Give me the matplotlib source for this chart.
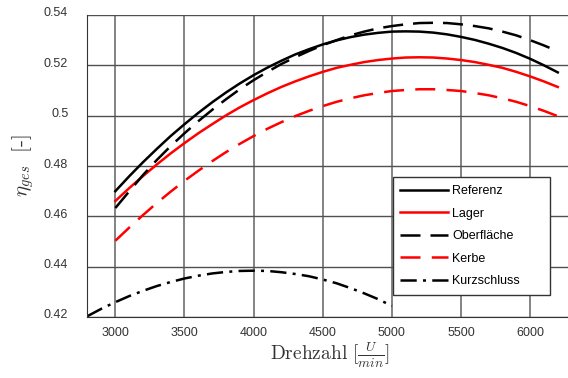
import matplotlib
matplotlib.use("Agg")
import matplotlib.pyplot as plt
import matplotlib.transforms as mtransforms

plt.rcParams['font.family'] = ['Liberation Sans', 'DejaVu Sans']
plt.rcParams['mathtext.fontset'] = 'cm'

rpm = [3000, 3100, 3200, 3300, 3400, 3500, 3600, 3700, 3800, 3900, 4000,
       4100, 4200, 4300, 4400, 4500, 4600, 4700, 4800, 4900, 5000,
       5100, 5200, 5300, 5400, 5500, 5600, 5700, 5800, 5900, 6000, 6100, 6200]
referenz = [0.4700, 0.4759, 0.4815, 0.4868, 0.4919, 0.4966, 0.5011, 0.5053, 0.5092, 0.5128, 0.5161,
            0.5191, 0.5218, 0.5243, 0.5264, 0.5283, 0.5299, 0.5312, 0.5322, 0.5329, 0.5334,
            0.5335, 0.5334, 0.5330, 0.5323, 0.5313, 0.5301, 0.5286, 0.5269, 0.5249, 0.5226, 0.5200, 0.5172]
lager = [0.4661, 0.4712, 0.4760, 0.4806, 0.4850, 0.4891, 0.4930, 0.4966, 0.5001, 0.5033, 0.5062,
         0.5089, 0.5114, 0.5136, 0.5156, 0.5174, 0.5190, 0.5202, 0.5213, 0.5221, 0.5227,
         0.5231, 0.5232, 0.5231, 0.5227, 0.5221, 0.5213, 0.5202, 0.5190, 0.5174, 0.5156, 0.5136, 0.5114]
oberflaeche = [0.4633, 0.4699, 0.4764, 0.4824, 0.4879, 0.4930, 0.4978, 0.5023, 0.5065, 0.5105, 0.5141,
               0.5174, 0.5205, 0.5232, 0.5257, 0.5280, 0.5300, 0.5319, 0.5334, 0.5347, 0.5356,
               0.5363, 0.5368, 0.5369, 0.5368, 0.5363, 0.5356, 0.5347, 0.5334, 0.5319, 0.5300, 0.5279, 0.5256]
kerbe = [0.4503, 0.4555, 0.4605, 0.4653, 0.4698, 0.4741, 0.4781, 0.4819, 0.4855, 0.4888, 0.4919,
         0.4948, 0.4974, 0.4998, 0.5019, 0.5038, 0.5055, 0.5069, 0.5081, 0.5090, 0.5098,
         0.5102, 0.5105, 0.5105, 0.5102, 0.5098, 0.5090, 0.5081, 0.5069, 0.5055, 0.5038, 0.5019, 0.4998]
rpm_k = [2800, 2900, 3000, 3100, 3200, 3300, 3400, 3500, 3600, 3700, 3800, 3900, 4000,
         4100, 4200, 4300, 4400, 4500, 4600, 4700, 4800, 4900, 5000]
kurzschluss = [0.4204, 0.4233, 0.4259, 0.4283, 0.4304, 0.4323, 0.4339, 0.4353, 0.4364, 0.4373, 0.4379, 0.4383, 0.4384,
               0.4383, 0.4378, 0.4371, 0.4362, 0.4349, 0.4334, 0.4315, 0.4294, 0.4271, 0.4244]

xticks = [3000, 3500, 4000, 4500, 5000, 5500, 6000]
yticks = [0.42, 0.44, 0.46, 0.48, 0.50, 0.52, 0.54]
yticklabels = ['0.42', '0.44', '0.46', '0.48', '0.5', '0.52', '0.54']

fig = plt.figure(figsize=(5.68, 3.78), dpi=100)
ax = fig.add_axes([87/568, 1-317/378, 1-87/568+0.01, 302/378])

for x in xticks:
    ax.axvline(x, color='#7a7a7a', lw=1.3, zorder=0)
for y in yticks:
    ax.axhline(y, color='#505050', lw=1.0, zorder=0)

ax.plot(rpm, referenz, color='black', lw=1.8, label='Referenz')
ax.plot(rpm, lager, color='red', lw=1.8, label='Lager')
ax.plot(rpm, oberflaeche, color='black', lw=1.8, dashes=(8, 4), label='Oberfläche')
ax.plot(rpm, kerbe, color='red', lw=1.8, dashes=(8, 4.5), label='Kerbe')
ax.plot(rpm_k, kurzschluss, color='black', lw=1.8, dashes=(6.5, 2.5, 1.2, 2.5), label='Kurzschluss')

ax.set_xlim(2795, 6315)
ax.set_ylim(0.42, 0.54)
ax.set_xticks(xticks)
ax.set_yticks(yticks)
ax.set_yticklabels(yticklabels)
ax.tick_params(length=0, labelsize=9, labelcolor='#333333')
ax.tick_params(axis='x', pad=7)
ax.tick_params(axis='y', pad=13.5)
offset = mtransforms.ScaledTranslation(0, 3/100, fig.dpi_scale_trans)
for lbl in ax.get_yticklabels():
    lbl.set_transform(lbl.get_transform() + offset)
for s in ['top', 'right']:
    ax.spines[s].set_visible(False)
ax.spines['left'].set_color('#333333')
ax.spines['bottom'].set_color('#333333')

ax.set_xlabel(r'$\mathrm{Drehzahl}\ [\frac{U}{min}]$', fontsize=14, color='#333333', labelpad=1)
ax.set_ylabel(r'$\eta_{ges}\ \ [\text{-}]$', fontsize=15, color='#333333', labelpad=6)

leg = ax.legend(loc='lower left', bbox_to_anchor=(0.628, 0.073, 0.323, 0.391), mode='expand',
                borderaxespad=0, fontsize=9, handlelength=3.8, frameon=True, fancybox=False,
                edgecolor='#333333', framealpha=1, labelspacing=0.85, handletextpad=0.35,
                borderpad=0.6)
leg.get_frame().set_linewidth(1.0)
leg.set_zorder(5)

fig.savefig('out.png', dpi=100)
